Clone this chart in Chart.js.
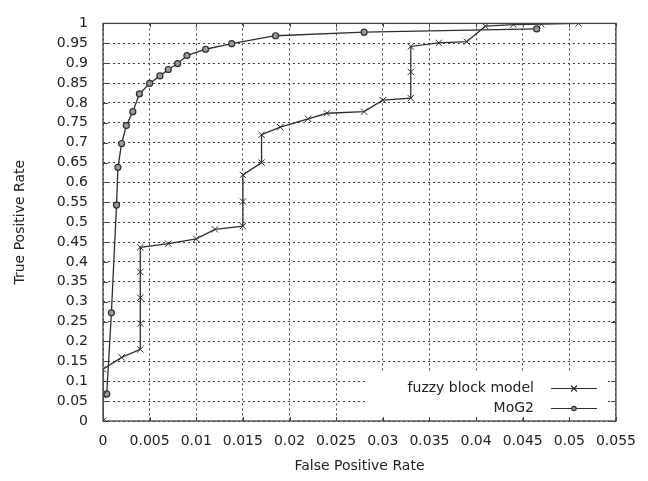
<!DOCTYPE html>
<html><head><meta charset="utf-8">
<script src="https://cdn.jsdelivr.net/npm/chart.js@4.4.0/dist/chart.umd.min.js"></script>
<style>html,body{margin:0;padding:0;background:#fff}#wrap{width:648px;height:481px;position:relative}</style>
</head><body><div id="wrap"><canvas id="c" width="648" height="481"></canvas></div>
<script>
// ---- data ----
const seriesNames = ['fuzzy block model', 'MoG2'];
const fuzzyFPR = [0, 0, 0, 0.002, 0.004, 0.004, 0.004, 0.004, 0.004, 0.007, 0.010, 0.012, 0.015, 0.015, 0.015, 0.017, 0.017, 0.019, 0.022, 0.024, 0.028, 0.030, 0.033, 0.033, 0.033, 0.036, 0.039, 0.041, 0.044, 0.047, 0.051];
const fuzzyTPR = [0, 0.065, 0.13, 0.16, 0.18, 0.245, 0.31, 0.375, 0.437, 0.446, 0.458, 0.482, 0.49, 0.552, 0.619, 0.65, 0.72, 0.739, 0.76, 0.774, 0.778, 0.807, 0.812, 0.878, 0.942, 0.951, 0.954, 0.993, 0.997, 0.998, 1.0];
const mogFPR = [0.0004, 0.0009, 0.00145, 0.0016, 0.002, 0.0025, 0.0032, 0.0039, 0.005, 0.0061, 0.007, 0.008, 0.009, 0.011, 0.0138, 0.0185, 0.028, 0.0465];
const mogTPR = [0.068, 0.272, 0.543, 0.638, 0.698, 0.743, 0.778, 0.823, 0.849, 0.868, 0.884, 0.899, 0.919, 0.935, 0.949, 0.969, 0.978, 0.986];
const xTitle = 'False Positive Rate';
const yTitle = 'True Positive Rate';
const xRange = [0, 0.055], xStep = 0.005;
const yRange = [0, 1], yStep = 0.05;

const FONT = '"DejaVu Sans", sans-serif';
const INK = '#2e2e2e';
const toPts = (xs, ys) => xs.map((x, i) => ({x: x, y: ys[i]}));

const frame = {
  id: 'frame',
  afterDatasetsDraw(chart) {
    const {ctx, chartArea: a} = chart;
    ctx.save();
    // legend (opaque, no box)
    ctx.fillStyle = '#fff';
    ctx.fillRect(368, 372, 238, 46);
    ctx.font = '14px ' + FONT;
    ctx.textAlign = 'right';
    ctx.textBaseline = 'middle';
    const rows = [388.5, 408.5];
    chart.data.datasets.forEach((ds, i) => {
      const y = rows[i];
      ctx.fillStyle = '#222';
      ctx.fillText(ds.label, 534, y);
      ctx.strokeStyle = INK; ctx.lineWidth = 1.2;
      ctx.beginPath(); ctx.moveTo(551, y); ctx.lineTo(597, y); ctx.stroke();
      if (i === 1) {
        ctx.fillStyle = '#999'; ctx.beginPath(); ctx.arc(574, y, 2.2, 0, Math.PI * 2); ctx.fill(); ctx.stroke();
      } else {
        ctx.beginPath(); ctx.moveTo(571, y - 3); ctx.lineTo(577, y + 3); ctx.moveTo(577, y - 3); ctx.lineTo(571, y + 3); ctx.stroke();
      }
    });
    // inward ticks
    const xs = chart.scales.x, ys = chart.scales.y;
    ctx.strokeStyle = '#444'; ctx.lineWidth = 1;
    ctx.beginPath();
    xs.ticks.forEach(t => {
      const px = Math.round(xs.getPixelForValue(t.value)) + 0.5;
      ctx.moveTo(px, a.bottom); ctx.lineTo(px, a.bottom - 4);
      ctx.moveTo(px, a.top); ctx.lineTo(px, a.top + 4);
    });
    ys.ticks.forEach(t => {
      const py = Math.round(ys.getPixelForValue(t.value)) + 0.5;
      ctx.moveTo(a.left, py); ctx.lineTo(a.left + 5, py);
      ctx.moveTo(a.right, py); ctx.lineTo(a.right - 5, py);
    });
    ctx.stroke();
    // border
    ctx.lineWidth = 1.3;
    ctx.strokeStyle = '#444';
    ctx.strokeRect(a.left, a.top, a.right - a.left, a.bottom - a.top);
    ctx.restore();
  }
};

new Chart(document.getElementById('c'), {
  type: 'scatter',
  data: {
    datasets: [
      {label: seriesNames[0], data: toPts(fuzzyFPR, fuzzyTPR), showLine: true, tension: 0,
       borderColor: INK, borderWidth: 1.3, pointStyle: 'crossRot', pointRadius: 4.5,
       pointBorderColor: INK, pointBorderWidth: 1, pointBackgroundColor: INK},
      {label: seriesNames[1], data: toPts(mogFPR, mogTPR), showLine: true, tension: 0,
       borderColor: INK, borderWidth: 1.3, pointStyle: 'circle', pointRadius: 3,
       pointBorderColor: INK, pointBorderWidth: 1.2, pointBackgroundColor: '#9a9a9a'}
    ]
  },
  options: {
    responsive: false,
    animation: false,
    devicePixelRatio: 1,
    layout: {padding: {top: 13, right: 31, left: 0, bottom: 0}},
    plugins: {legend: {display: false}, tooltip: {enabled: false}},
    scales: {
      x: {
        type: 'linear', min: xRange[0], max: xRange[1],
        afterFit: s => { s.height = 60; },
        grid: {color: '#3c3c3c', lineWidth: 1, drawTicks: false},
        border: {display: false, dash: [2, 3]},
        ticks: {stepSize: xStep, padding: 12, color: '#222', font: {family: FONT, size: 14},
                maxRotation: 0, autoSkip: false,
                callback: v => String(+v.toFixed(3))},
        title: {display: true, text: xTitle, color: '#222', font: {family: FONT, size: 14}, padding: {top: 0, bottom: 6}}
      },
      y: {
        type: 'linear', min: yRange[0], max: yRange[1],
        afterFit: s => { s.width = 103; },
        grid: {color: '#3c3c3c', lineWidth: 1, drawTicks: false},
        border: {display: false, dash: [2, 3]},
        ticks: {stepSize: yStep, padding: 15, color: '#222', font: {family: FONT, size: 14}, autoSkip: false,
                callback: v => String(+v.toFixed(2))},
        title: {display: true, text: yTitle, color: '#222', font: {family: FONT, size: 14}, padding: {top: 12, bottom: 0}}
      }
    }
  },
  plugins: [frame]
});
</script>
</body></html>
